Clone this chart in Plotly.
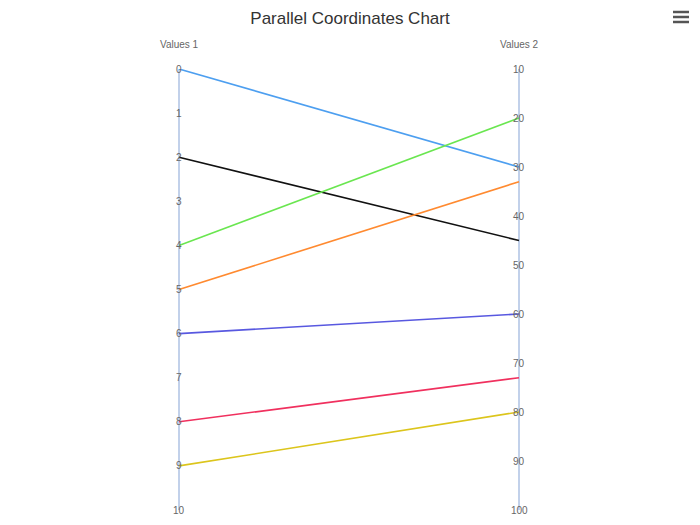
import plotly.graph_objects as go

# data
axis_names = ["Values 1", "Values 2"]
values_1 = [0, 2, 4, 5, 6, 8, 9]
values_2 = [30, 45, 20, 33, 60, 73, 80]
line_colors = ["#4d9ff0", "#111111", "#6ae650", "#ff8a30", "#5858e0", "#f0305e", "#dcc51c"]
ticks_1 = [0, 1, 2, 3, 4, 5, 6, 7, 8, 9, 10]
ticks_2 = [10, 20, 30, 40, 50, 60, 70, 80, 90, 100]

range_1 = (0, 10)
range_2 = (10, 100)

W, H = 700, 525
OFF = 8  # page margin around the plot div
left_px, right_px = 179 - OFF, 519 - OFF
top_px, bottom_px = 69 - OFF, 510 - OFF


def to_axis1(v):
    # map a value of axis 2 onto the scale of axis 1
    return range_1[0] + (v - range_2[0]) / (range_2[1] - range_2[0]) * (range_1[1] - range_1[0])


fig = go.Figure()

for a, b, c in zip(values_1, values_2, line_colors):
    fig.add_trace(go.Scatter(
        x=[0, 1],
        y=[a, to_axis1(b)],
        mode="lines",
        line=dict(color=c, width=1.6),
        hoverinfo="skip",
        showlegend=False,
    ))

unit = right_px - left_px
fig.update_xaxes(
    range=[-left_px / unit, (W - left_px) / unit],
    tickvals=[0, 1],
    showticklabels=False,
    showgrid=True,
    gridcolor="#c2d1ea",
    gridwidth=1.5,
    zeroline=False,
    showline=False,
    fixedrange=True,
)
fig.update_yaxes(
    range=[range_1[1], range_1[0]],
    showticklabels=False,
    showgrid=False,
    zeroline=False,
    showline=False,
    fixedrange=True,
)

tick_font = dict(family="Liberation Sans, Arial, sans-serif", size=10, color="#666666")
annotations = []
for t in ticks_1:
    annotations.append(dict(x=0, y=t, xref="x", yref="y", text=str(t), showarrow=False,
                            xanchor="center", yanchor="middle", font=tick_font))
for t in ticks_2:
    annotations.append(dict(x=1, y=to_axis1(t), xref="x", yref="y", text=str(t), showarrow=False,
                            xanchor="center", yanchor="middle", font=tick_font))
plot_h = bottom_px - top_px
for i, name in enumerate(axis_names):
    annotations.append(dict(x=i, y=(bottom_px - (45 - OFF)) / plot_h, xref="x", yref="paper", text=name,
                            showarrow=False, xanchor="center", yanchor="middle", font=tick_font))

# export menu icon
shapes = []
for py in [12, 17, 22]:
    shapes.append(dict(type="line", xref="paper", yref="paper",
                       x0=(673 - OFF) / W, x1=(689 - OFF) / W,
                       y0=(bottom_px - (py - OFF)) / plot_h, y1=(bottom_px - (py - OFF)) / plot_h,
                       line=dict(color="#555555", width=2.5)))

fig.update_layout(
    width=W,
    height=H,
    margin=dict(l=0, r=0, t=top_px, b=H - bottom_px),
    paper_bgcolor="white",
    plot_bgcolor="white",
    title=dict(text="Parallel Coordinates Chart", x=(350 - OFF) / W, xanchor="center",
               y=1 - 4 / H, yanchor="top",
               font=dict(family="Liberation Sans, Arial, sans-serif", size=17, color="#333333")),
    annotations=annotations,
    shapes=shapes,
)

fig.write_html("out.html", config={"displayModeBar": False})
